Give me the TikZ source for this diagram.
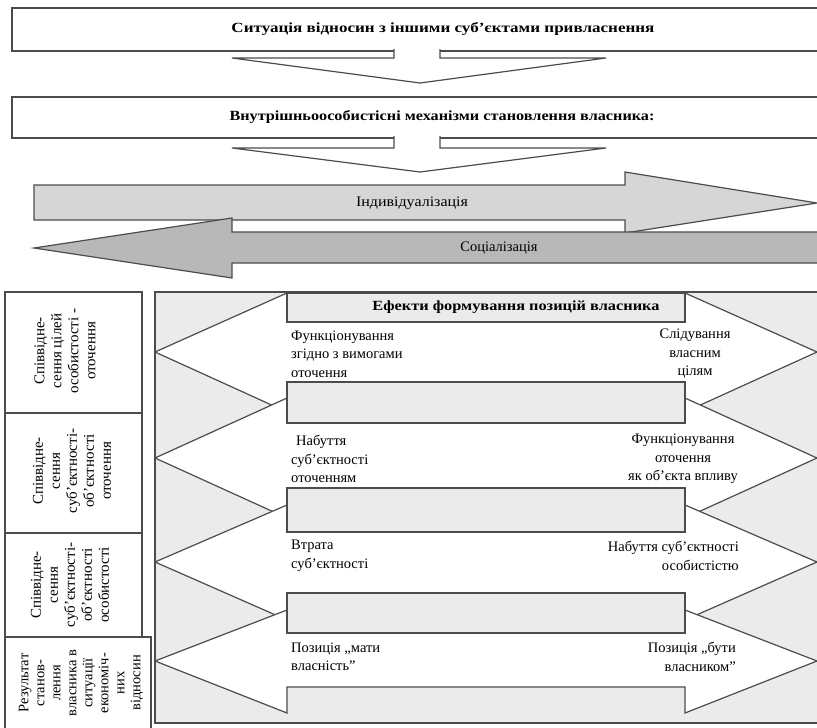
\documentclass[tikz,border=0pt]{standalone}
\usepackage{fontspec}
\setmainfont{Liberation Serif}
\begin{document}
\begin{tikzpicture}[x=1pt,y=-1pt,
  ln/.style={draw=black!70, line width=1.2pt, line join=miter},
  wbox/.style={ln, fill=white},
  dbox/.style={ln, fill=black!8},
  indiv/.style={ln, fill=black!16},
  socl/.style={ln, fill=black!28},
  warrow/.style={ln, fill=white},
  txt/.style={inner sep=0pt, font=\fontsize{14.5}{18.5}\selectfont},
  btxt/.style={inner sep=0pt, font=\fontsize{14}{18}\selectfont\bfseries},
  rtxt/.style={inner sep=0pt, rotate=90, align=center, font=\fontsize{15}{17}\selectfont}]
\useasboundingbox (0,0) rectangle (817,728);

% ---------- top boxes and down arrows ----------
\draw[wbox] (12,8) rectangle (840,51);
\node[btxt] (sit) at (443,29) {\resizebox{423pt}{\height}{Ситуація відносин з іншими суб’єктами привласнення}};
\fill[white] (394,49) rectangle (440,59);
\draw[ln, fill=white] (394,49) -- (394,58) -- (232,58) -- (420,83) -- (606,58) -- (440,58) -- (440,49);

\draw[wbox] (12,97) rectangle (840,138);
\node[btxt] (mech) at (442,117) {\resizebox{425pt}{\height}{Внутрішньоособистісні механізми становлення власника:}};
\fill[white] (394,136) rectangle (440,149);
\draw[ln, fill=white] (394,136) -- (394,148) -- (232,148) -- (420,172) -- (606,148) -- (440,148) -- (440,136);

% ---------- individualisation / socialisation ----------
\draw[indiv] (34,185) -- (625,185) -- (625,172) -- (817,203) -- (625,233) -- (625,220) -- (34,220) -- cycle;
\node[txt] (ind) at (412,203) {\resizebox{112pt}{\height}{Індивідуалізація}};
\draw[socl] (840,232) -- (232,232) -- (232,218) -- (34,248) -- (232,278) -- (232,263) -- (840,263);
\node[txt] (soc) at (499,248) {Соціалізація};

% ---------- left column ----------
\draw[ln] (5,292) rectangle (142,413);
\draw[ln] (5,413) rectangle (142,533);
\draw[ln] (5,533) rectangle (142,637);
\draw[ln] (5,637) rectangle (151,730);
\node[rtxt] (c1) at (65,351) {Співвідне-\\сення цілей\\особистості -\\оточення};
\node[rtxt] (c2) at (72,471) {Співвідне-\\сення\\суб’єктності-\\об’єктності\\оточення};
\node[rtxt] (c3) at (70,585) {Співвідне-\\сення\\суб’єктності-\\об’єктності\\особистості};
\node[rtxt, font=\fontsize{14.5}{16}\selectfont] (c4) at (81,683) {Результат\\станов-\\лення\\власника в\\ситуації\\економіч-\\них\\відносин};

% ---------- main panel ----------
\draw[dbox] (155,292) rectangle (840,723);

% white double arrows: head top, shaft top, shaft bottom, head bottom, tip
\foreach \ht/\st/\sb/\hb/\ty in {293/322/382/412/352, 398/423/488/518/458, 505/532/593/620/562, 610/633/687/713/661}{
  \draw[warrow] (287,\ht) -- (155,\ty) -- (287,\hb) -- (287,\sb) -- (685,\sb) -- (685,\hb)
     -- (817,\ty) -- (685,\ht) -- (685,\st) -- (287,\st) -- cycle;
}

\draw[dbox] (287,293) rectangle (685,322);
\draw[dbox] (287,382) rectangle (685,423);
\draw[dbox] (287,488) rectangle (685,532);
\draw[dbox] (287,593) rectangle (685,633);

\node[btxt] (eff) at (516,307) {\resizebox{287pt}{\height}{Ефекти формування позицій власника}};

\node[txt, anchor=west, align=left] (l1) at (291,354) {Функціонування\\згідно з вимогами\\оточення};
\node[txt, align=center] (r1) at (695,354) {Слідування\\власним\\цілям};
\node[txt, anchor=west, align=left] (l2) at (291,459) {\hspace{5pt}Набуття\\суб’єктності\\оточенням};
\node[txt, align=center] (r2) at (683,459) {Функціонування\\оточення\\як об’єкта впливу};
\node[txt, anchor=west, align=left] (l3) at (291,556) {Втрата\\суб’єктності};
\node[txt, anchor=east, align=right] (r3) at (739,556) {Набуття суб’єктності\\особистістю};
\node[txt, anchor=west, align=left] (l4) at (291,657) {Позиція „мати\\власність”};
\node[txt, anchor=east, align=right] (r4) at (736,657) {Позиція „бути\\власником”};
\end{tikzpicture}
\end{document}
